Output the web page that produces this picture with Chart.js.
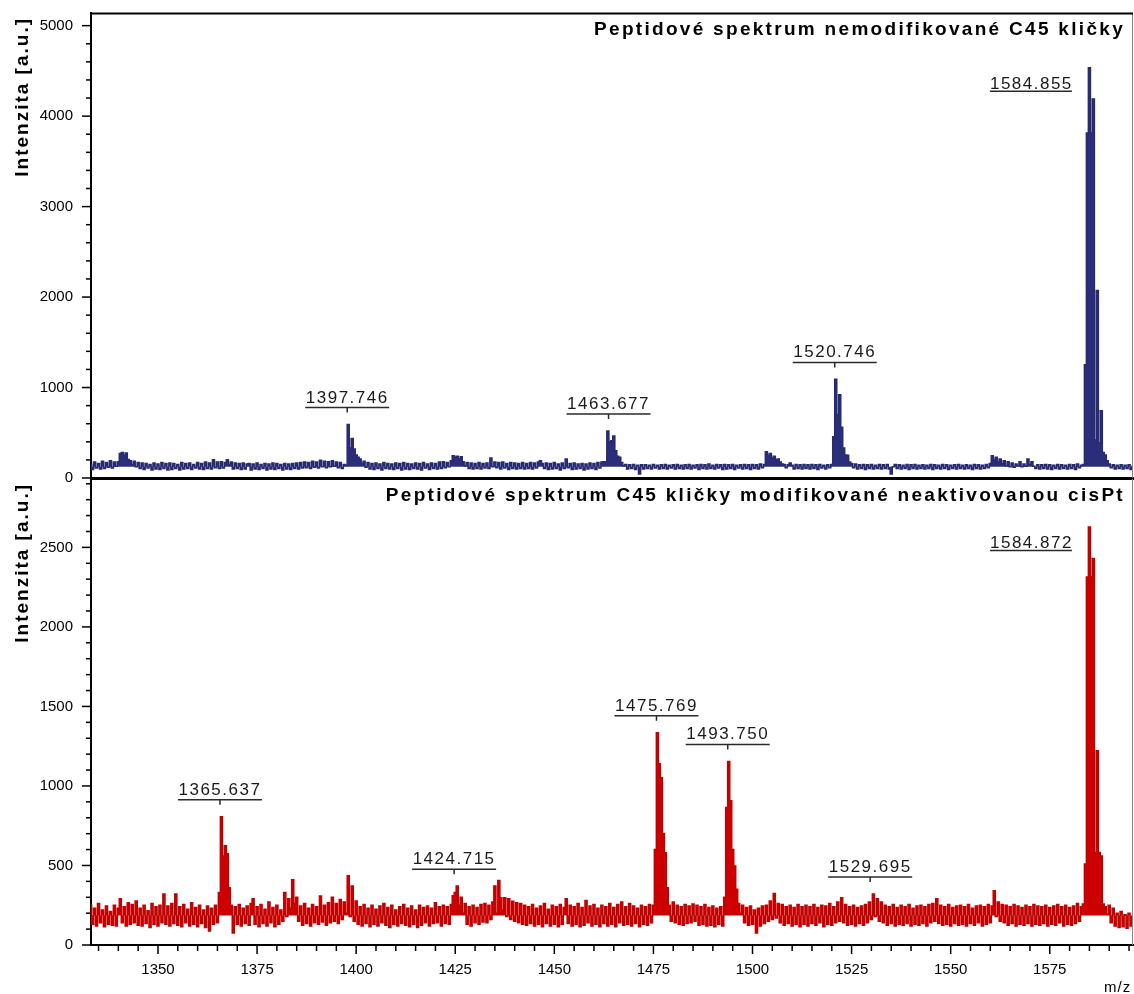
<!DOCTYPE html>
<html>
<head>
<meta charset="utf-8">
<script src="https://cdn.jsdelivr.net/npm/chart.js@4.4.0/dist/chart.umd.min.js"></script>
<style>
html,body{margin:0;padding:0;background:#fff;}
#wrap{position:relative;width:1134px;height:994px;overflow:hidden;background:#fff;}
canvas{display:block;}
</style>
</head>
<body>
<div id="wrap">
  <div style="position:absolute;left:0;top:0;width:1134px;height:490px;"><canvas id="c1" width="1134" height="490" style="width:1134px;height:490px;"></canvas></div>
  <div style="position:absolute;left:0;top:479px;width:1134px;height:515px;"><canvas id="c2" width="1134" height="515" style="width:1134px;height:515px;"></canvas></div>
</div>
<script>
// ---- data (m/z sampling grid: start + step; intensities) ----
const mzStart = 1333;
const mzStep = 0.5;

// upper spectrum: unmodified C45 loop (rows of 20 samples = 10 m/z units, starting 1333, 1343, ...)
const intensityTop = [
  150, 95,175,110,160,100,185,105,170,120,190,110,175,130,180,270,280,250,275,205,
  190,150,185,125,170,105,165, 95,160,110,150, 90,165,100,155, 95,170,105,160, 90,
  165, 95,160,105,150, 90,170,100,160,105,165, 95,150,110,170,100,160, 95,175,105,
  165,100,200,115,175,105,180,110,170,200,150,175,100,165,105,160, 95,165,100,155,
  160, 90,155,100,165, 95,150,105,160, 90,155,100,165, 95,160,105,150, 90,160,100,
  155, 95,160,105,165,100,170,110,175,115,170,105,185,120,175,110,195,125,185,115,
  180,125,190,130,175,115,170,105,150,140,590,330,435,320,255,230,210,160,185,120,
  170,100,160, 95,165,105,155, 90,170,105,160,100,155, 95,165,105,160, 90,170,100,
  160, 95,155,105,165,100,160, 90,170,110,155, 95,165,105,160,100,175,105,180,115,
  170,125,190,245,230,240,210,235,180,135,170,105,165,100,160,105,170,100,160,110,
  165,105,220,125,175,115,170,100,175,110,160, 95,170,105,165,100,160,105,170,100,
  160,105,170,100,165,110,175,190,160,105,165, 95,160,100,170,105,155, 90,165,105,
  210,115,160, 95,165,100,155,105,160, 90,155,100,165,105,160, 95,170,110,175,180,
  175,520,400,410,465,300,240,230,170,135,150,100,145,105,150, 95,140, 45,145,100,
  145,105,140,100,150,110,140,100,145,105,150,100,140,110,145,100,150,105,140,100,
  145,105,150,100,140,110,145, 95,150,105,145,100,155,105,140,100,150,110,145, 95,
  150,100,145,105,150, 95,140,110,145,100,150,105,145, 95,150,105,145,100,155,115,
  150,290,250,270,220,240,200,210,175,155,150,115,145,165,140,100,150,105,145,100,
  150,105,145,100,150,105,145, 95,150,110,140,100,145,115,150,455,1090,700,920,560,
  330,255,250,175,160,115,155,100,145,105,150, 95,145,105,150,100,140,105,150,100,
  145,105,150,100, 45,125,150,105,145,100,140,105,150, 95,145,105,150,100,140,105,
  145,100,140,105,150, 95,145,105,140,100,150,105,145, 95,140,105,145,100,150,105,
  140,100,145,105,140, 95,150,105,145,100,140,105,150,115,160,245,200,230,175,210,
  160,190,135,180,125,165,120,155,135,180,125,155,130,210,145,180,130,105,145,100,
  145,105,150,100,145, 95,140,105,150,100,145,105,140,100,150,105,145, 95,155,115,
  140,150,1250,3814,4534,3814,4190,420,2073,390,743,280,255,190,155,115,145,100,140,105,
  145,100,140,105,145, 95,130
];

// lower spectrum: C45 loop modified by non-activated cisPt
const intensityBottom = [
  250,130,230,120,260,140,220,115,245,130,210,125,250,120,230,290,140,240,120,265,
  130,255,140,277,125,230,120,250,135,215,110,260,130,240,120,250,140,321,130,245,
  120,260,135,321,125,240,115,255,140,225,120,265,130,235,115,250,135,220,110,245,
   88,230,130,250,140,330,806,560,623,573,360,250, 75,240,130,255,120,230,135,245,
  125,260,290,130,240,115,255,135,225,120,270,140,235,115,250,130,220,150,330,180,
  290,230,410,260,300,150,245,125,260,135,230,120,255,140,240,130,308,145,250,125,
  265,140,300,150,260,135,285,160,270,200,435,180,370,150,277,130,240,120,255,135,
  230,115,250,130,225,120,245,140,260,125,235,110,250,130,220,120,240,135,255,125,
  230,115,245,130,220,110,250,125,235,140,245,120,230,135,265,140,240,120,250,135,
  240,130,255,310,330,370,250,300,200,260,130,240,120,250,140,235,130,255,145,260,
  140,250,160,270,370,200,405,296,220,296,180,290,160,275,150,265,140,260,130,250,
  125,240,135,255,120,230,130,245,115,260,135,225,120,250,130,240,115,255,130,235,
  290,135,250,120,240,130,260,115,235,125,280,140,245,120,255,130,230,115,250,135,
  240,120,260,130,235,115,255,140,270,125,240,130,260,120,245,135,230,115,250,130,
  240,125,255,140,250,600,1335,1140,1052,700,580,360,250,150,270,140,250,130,240,125,
  255,135,245,140,258,150,250,125,240,130,255,120,235,125,245,115,230,130,240,120,
  300,865,1154,907,600,497,350,260,200,250,140,235,125,245,130,220, 75,230,120,245,
  135,250,150,277,160,323,170,260,140,255,125,240,135,250,120,235,130,255,115,240,
  130,250,120,240,135,255,125,235,140,250,115,245,130,260,125,240,140,270,150,296,
  140,255,125,240,130,250,120,235,135,245,125,255,140,270,160,320,180,290,150,270,
  140,250,125,240,135,255,120,235,130,250,125,240,135,255,120,230,130,245,125,250,
  135,240,120,255,140,260,150,290,135,250,125,240,130,255,120,235,135,245,125,250,
  130,240,120,255,135,230,125,245,140,250,120,240,130,255,140,245,340,180,270,150,
  255,140,250,125,240,135,255,120,245,130,235,125,250,135,240,120,255,130,245,125,
  240,135,250,120,235,130,245,125,255,140,240,120,250,130,235,125,245,135,260,150,
  240,257,509,2313,2628,2313,2430,581,1221,581,560,257,240,195,250,140,230,120,200,110,
  210,115,190,105,200,120,170
];

const labeledPeaksTop = [1397.746, 1463.677, 1520.746, 1584.855];
const labeledPeaksBottom = [1365.637, 1424.715, 1475.769, 1493.750, 1529.695, 1584.872];
const yLabelsTop = [0, 1000, 2000, 3000, 4000, 5000];
const yLabelsBottom = [0, 500, 1000, 1500, 2000, 2500];
const xLabels = [1350, 1375, 1400, 1425, 1450, 1475, 1500, 1525, 1550, 1575];
const titleTop = 'Peptidové spektrum nemodifikované C45 kličky';
const titleBottom = 'Peptidové spektrum C45 kličky modifikované neaktivovanou cisPt';
const yTitle = 'Intenzita [a.u.]';
const xTitle = 'm/z';

// ---- rendering ----
Chart.defaults.font.family = '"Liberation Sans", Arial, sans-serif';
const FONT = '"Liberation Sans", Arial, sans-serif';

const toPoints = arr => arr.map((v, i) => ({ x: mzStart + i * mzStep, y: v }));
const noPad = s => { s.paddingTop = 0; s.paddingBottom = 0; s.paddingLeft = 0; s.paddingRight = 0; };
const inList = (list, v) => list.some(u => Math.abs(u - v) < 1e-6);

function decor(p) {
  return {
    id: 'decor',
    afterDraw(chart) {
      const ctx = chart.ctx, a = chart.chartArea;
      const xs = chart.scales.x, ys = chart.scales.y;
      ctx.save();
      // frame
      ctx.strokeStyle = '#8a8a8a'; ctx.lineWidth = 1;
      ctx.beginPath(); ctx.moveTo(a.right - 0.5, a.top); ctx.lineTo(a.right - 0.5, a.bottom); ctx.stroke();
      if (p.topBorder) {
        ctx.strokeStyle = '#000'; ctx.lineWidth = 2;
        ctx.beginPath(); ctx.moveTo(a.left - 1, a.top + 0.5); ctx.lineTo(a.right, a.top + 0.5); ctx.stroke();
      }
      // y ticks (major / minor)
      ctx.strokeStyle = '#000'; ctx.lineWidth = 1.5;
      ys.ticks.forEach(t => {
        const y = ys.getPixelForValue(t.value);
        if (y < a.top + 3) return;
        const len = inList(p.yLabels, t.value) ? 9 : 5;
        ctx.beginPath(); ctx.moveTo(a.left - len, y); ctx.lineTo(a.left, y); ctx.stroke();
      });
      // x ticks
      if (p.xTicks) {
        xs.ticks.forEach(t => {
          const x = xs.getPixelForValue(t.value);
          const len = inList(xLabels, t.value) ? 8 : 5;
          ctx.beginPath(); ctx.moveTo(x, a.bottom + 1); ctx.lineTo(x, a.bottom + 1 + len); ctx.stroke();
        });
      }
      // panel title
      ctx.fillStyle = '#000';
      ctx.font = 'bold 19px ' + FONT;
      ctx.letterSpacing = '2.3px';
      ctx.textAlign = 'right'; ctx.textBaseline = 'alphabetic';
      ctx.fillText(p.title, a.right - 8, a.top + 22);
      // y axis title
      ctx.save();
      ctx.translate(28, a.top + 4);
      ctx.rotate(-Math.PI / 2);
      ctx.font = 'bold 19px ' + FONT;
      ctx.letterSpacing = '2px';
      ctx.textAlign = 'right';
      ctx.fillText(yTitle, 0, 0);
      ctx.restore();
      // peak labels
      const pts = chart.data.datasets[0].data;
      const gmax = pts.reduce((m, q) => (q.y > m.y ? q : m), pts[0]);
      ctx.font = '17px ' + FONT;
      ctx.letterSpacing = '1.5px';
      ctx.fillStyle = '#1a1a1a'; ctx.strokeStyle = '#2a2a2a'; ctx.lineWidth = 1.5;
      p.peaks.forEach(mz => {
        let best = 0;
        pts.forEach(q => { if (Math.abs(q.x - mz) <= 1.0 && q.y > best) best = q.y; });
        const px = xs.getPixelForValue(mz), py = ys.getPixelForValue(best);
        const label = mz.toFixed(3);
        if (Math.abs(gmax.x - mz) <= 1.0) {
          ctx.textAlign = 'right';
          const w = ctx.measureText(label).width;
          const tx = px - 16, ty = py + 21;
          ctx.fillText(label, tx, ty);
          ctx.beginPath(); ctx.moveTo(tx - w, ty + 2.5); ctx.lineTo(tx - 1, ty + 2.5); ctx.stroke();
        } else {
          const ly = py - 17;
          ctx.textAlign = 'center';
          ctx.fillText(label, px, ly - 5);
          ctx.beginPath();
          ctx.moveTo(px - 42, ly); ctx.lineTo(px + 42, ly);
          ctx.moveTo(px, ly); ctx.lineTo(px, ly + 5);
          ctx.stroke();
        }
      });
      if (p.xTitle) {
        ctx.font = '15px ' + FONT; ctx.letterSpacing = '1px';
        ctx.textAlign = 'left'; ctx.fillStyle = '#000';
        ctx.fillText(xTitle, 1104, chart.height - 2);
      }
      ctx.letterSpacing = '0px';
      ctx.restore();
    }
  };
}

new Chart(document.getElementById('c1'), {
  type: 'line',
  data: { datasets: [{
    data: toPoints(intensityTop),
    borderColor: '#272b72', backgroundColor: '#2a2e7a', borderWidth: 1.6,
    pointRadius: 0, stepped: 'middle', fill: { value: 125 }
  }] },
  options: {
    responsive: false, animation: false, devicePixelRatio: 1,
    layout: { padding: { top: 13, right: 1, bottom: 12, left: 0 } },
    plugins: { legend: { display: false }, tooltip: { enabled: false } },
    scales: {
      x: { type: 'linear', min: 1333.1, max: 1596,
           ticks: { display: false }, grid: { display: false, drawTicks: false },
           border: { display: true, width: 3, color: '#000' },
           afterFit: s => { noPad(s); s.height = 0; } },
      y: { min: 0, max: 5140,
           ticks: { stepSize: 200, autoSkip: false, includeBounds: false, padding: 9, color: '#000',
                    font: { size: 15 }, callback: v => (inList(yLabelsTop, v) ? String(Math.round(v)) : '') },
           grid: { display: false, drawTicks: true, tickLength: 9 },
           border: { display: true, width: 2, color: '#000' },
           afterFit: s => { noPad(s); s.width = 91; } }
    }
  },
  plugins: [decor({ title: titleTop, peaks: labeledPeaksTop, yLabels: yLabelsTop, topBorder: true, xTicks: false, xTitle: false })]
});

new Chart(document.getElementById('c2'), {
  type: 'line',
  data: { datasets: [{
    data: toPoints(intensityBottom),
    borderColor: '#c20000', backgroundColor: '#cc0000', borderWidth: 1.6,
    pointRadius: 0, stepped: 'middle', fill: { value: 185 }
  }] },
  options: {
    responsive: false, animation: false, devicePixelRatio: 1,
    layout: { padding: { top: 0, right: 1, bottom: 0, left: 0 } },
    plugins: { legend: { display: false }, tooltip: { enabled: false } },
    scales: {
      x: { type: 'linear', min: 1333.1, max: 1596,
           ticks: { stepSize: 5, autoSkip: false, includeBounds: false, maxRotation: 0, minRotation: 0,
                    padding: 8, color: '#000', font: { size: 15 },
                    callback: v => (inList(xLabels, v) ? String(Math.round(v)) : '') },
           grid: { display: false, drawTicks: true, tickLength: 8 },
           border: { display: true, width: 2, color: '#000' },
           afterFit: s => { noPad(s); s.height = 49; } },
      y: { min: 0, max: 2930,
           ticks: { stepSize: 100, autoSkip: false, includeBounds: false, padding: 9, color: '#000',
                    font: { size: 15 }, callback: v => (inList(yLabelsBottom, v) ? String(Math.round(v)) : '') },
           grid: { display: false, drawTicks: true, tickLength: 9 },
           border: { display: true, width: 2, color: '#000' },
           afterFit: s => { noPad(s); s.width = 91; } }
    }
  },
  plugins: [decor({ title: titleBottom, peaks: labeledPeaksBottom, yLabels: yLabelsBottom, topBorder: false, xTicks: true, xTitle: true })]
});
</script>
</body>
</html>
